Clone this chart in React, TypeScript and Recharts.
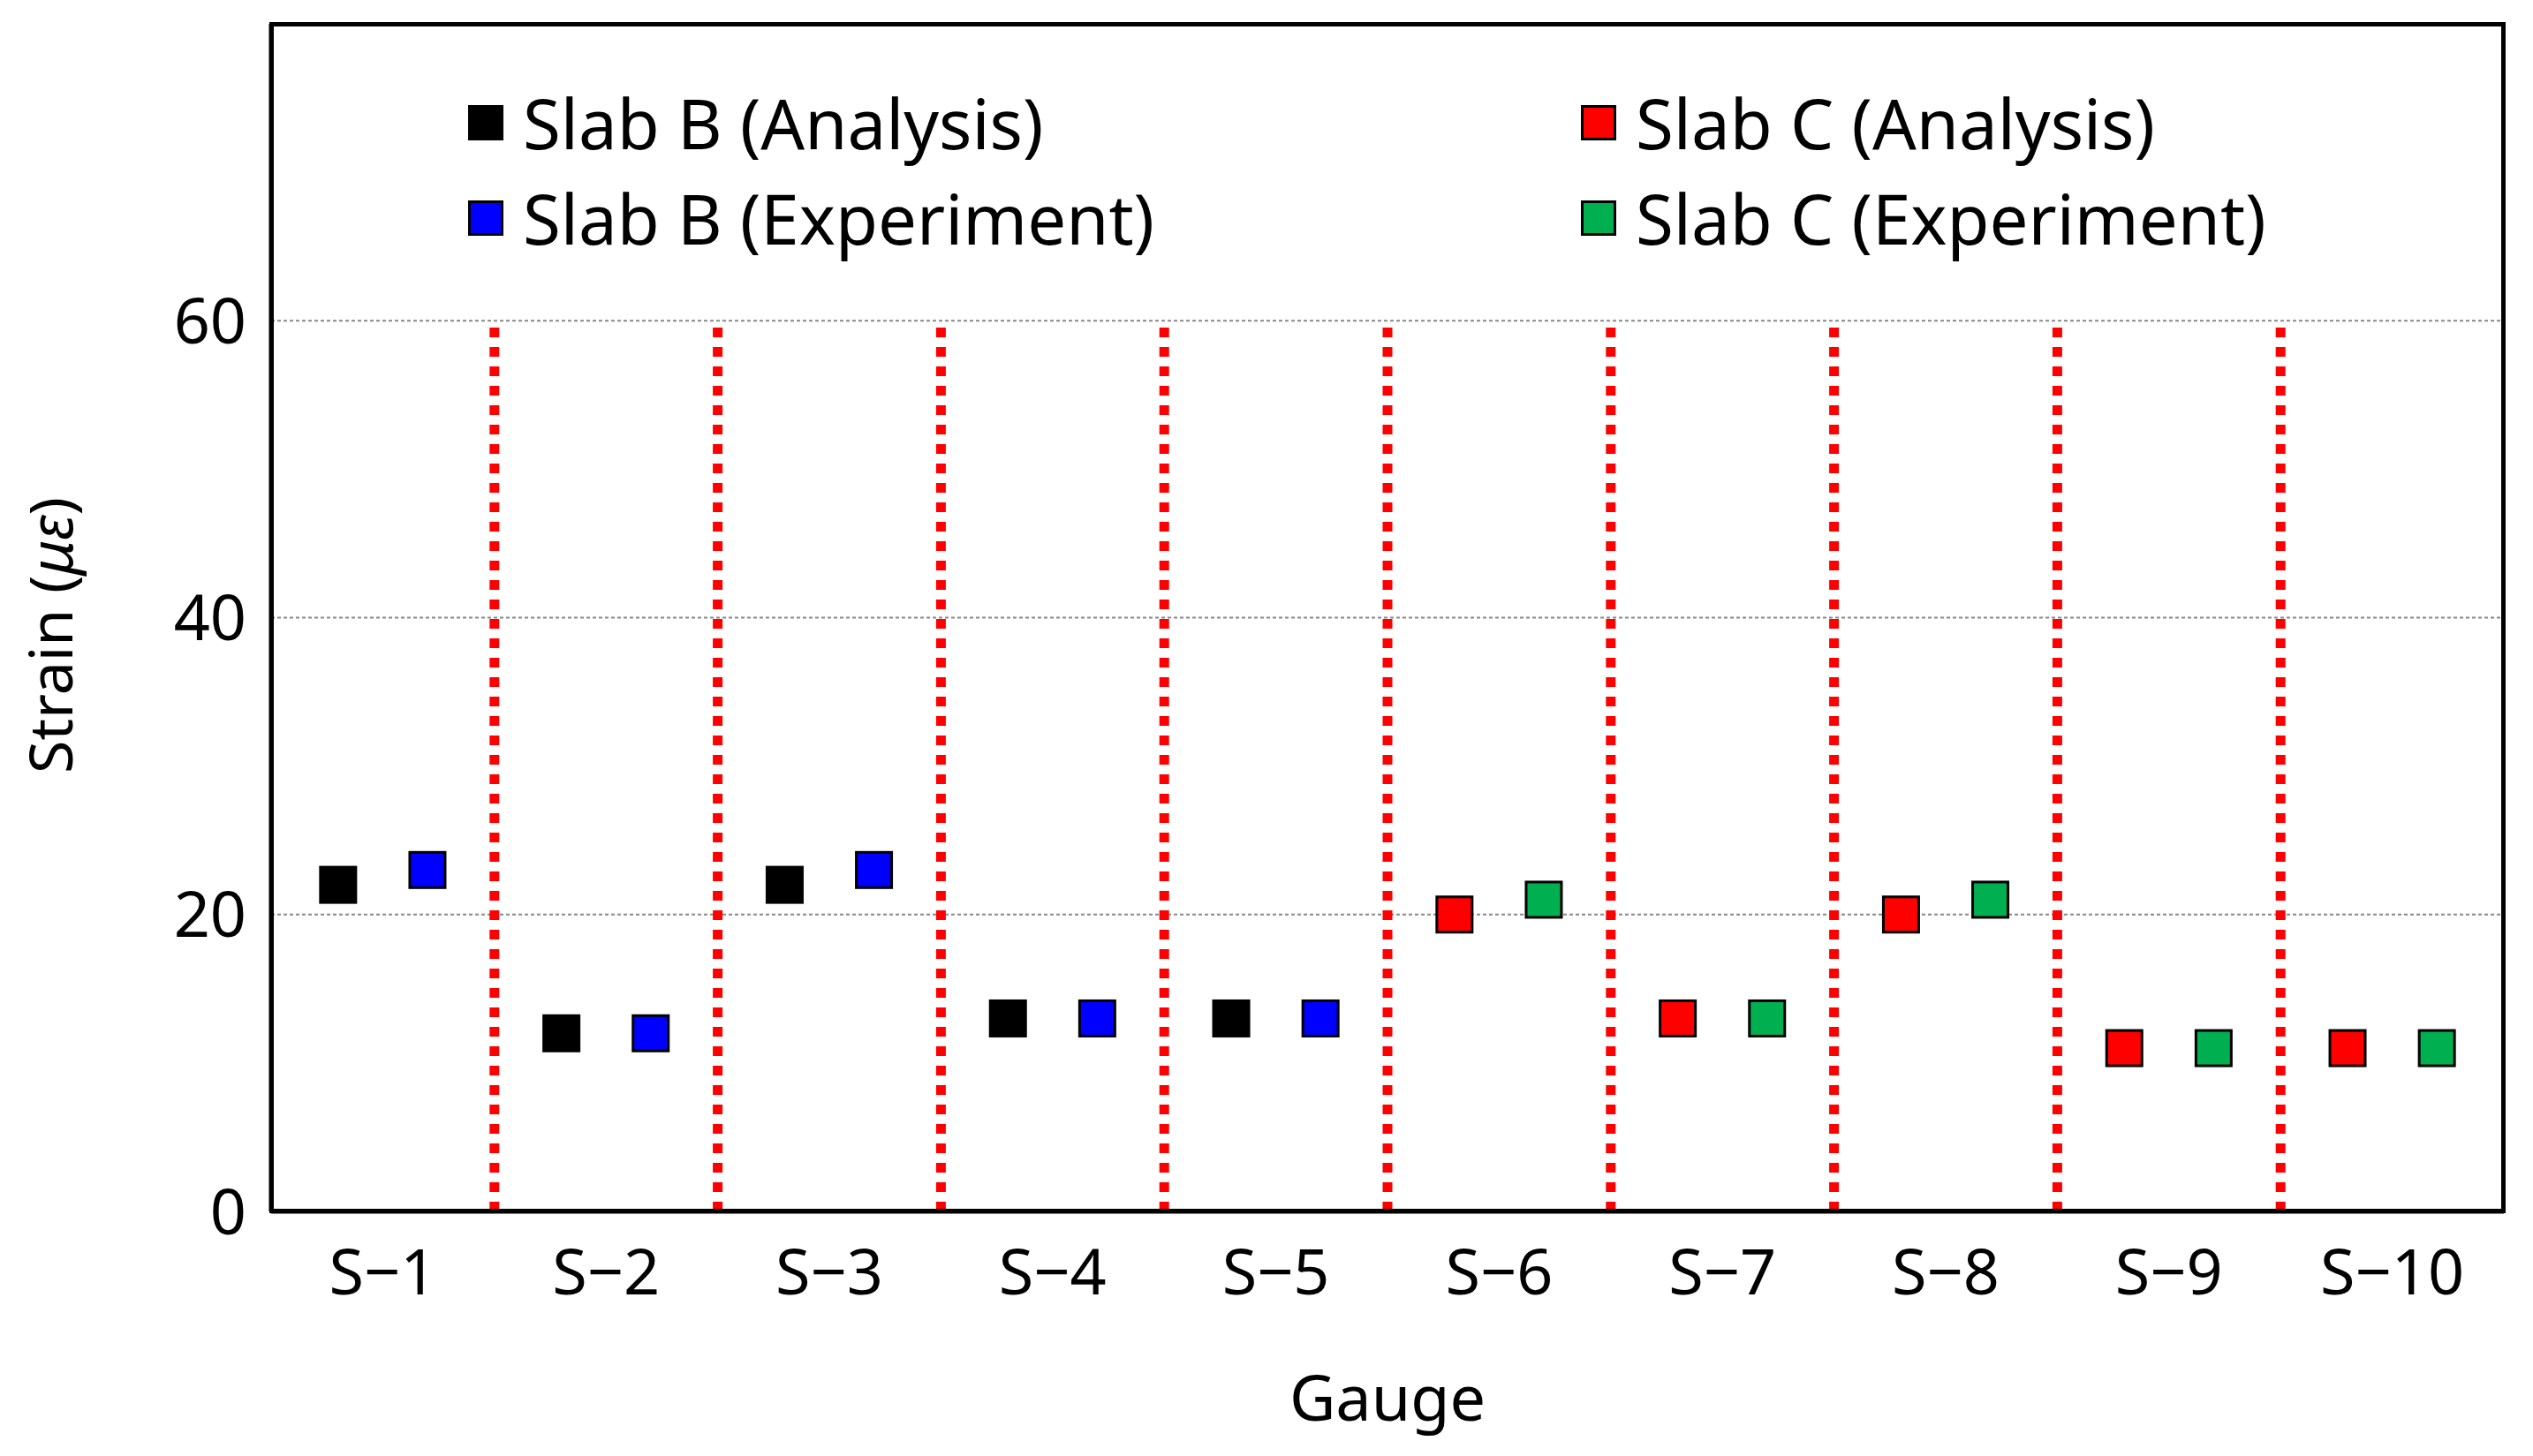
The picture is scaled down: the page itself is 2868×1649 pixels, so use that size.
import { ScatterChart, Scatter, XAxis, YAxis, CartesianGrid, ReferenceLine } from "recharts";

const gauges = ["S−1", "S−2", "S−3", "S−4", "S−5", "S−6", "S−7", "S−8", "S−9", "S−10"];
const analysis = [22, 12, 22, 13, 13, 20, 13, 20, 11, 11];
const experiment = [23, 12, 23, 13, 13, 21, 13, 21, 11, 11];
const slabOf = ["B", "B", "B", "B", "B", "C", "C", "C", "C", "C"];
const yTicks = [0, 20, 40, 60];
const gridValues = [20, 40, 60];
const dividers = [1.5, 2.5, 3.5, 4.5, 5.5, 6.5, 7.5, 8.5, 9.5];

const build = (vals: number[], slab: string, off: number) =>
  vals.map((v, i) => ({ x: i + 1 + off, y: v })).filter((_, i) => slabOf[i] === slab);

const bA = build(analysis, "B", -0.2);
const bE = build(experiment, "B", 0.2);
const cA = build(analysis, "C", -0.2);
const cE = build(experiment, "C", 0.2);

const font = "'Noto Sans', Arial, sans-serif";
const sq = (fill: string) => (p: any) => (
  <rect x={p.cx - 20} y={p.cy - 20} width={40} height={40} fill={fill} stroke="#000" strokeWidth={3} />
);

const legend = [
  { label: "Slab B (Analysis)", color: "#000", left: 530, top: 100 },
  { label: "Slab B (Experiment)", color: "#0000ff", left: 530, top: 208 },
  { label: "Slab C (Analysis)", color: "#ff0000", left: 1790, top: 100 },
  { label: "Slab C (Experiment)", color: "#00b050", left: 1790, top: 208 },
];

function App() {
  return (
    <div style={{ position: "relative", width: 2868, height: 1649, margin: -8, background: "#fff", fontFamily: font }}>
      <ScatterChart width={2868} height={1649} margin={{ top: 27, right: 33, left: 0, bottom: 0 }}>
        <CartesianGrid vertical={false} horizontalValues={gridValues} stroke="#888" strokeDasharray="4 3" strokeWidth={2} />
        <XAxis
          type="number" dataKey="x" domain={[0.5, 10.5]} ticks={[1, 2, 3, 4, 5, 6, 7, 8, 9, 10]}
          tickFormatter={(v) => gauges[v - 1]} height={277} tickLine={false}
          axisLine={{ stroke: "#000", strokeWidth: 5 }}
          tick={{ fontSize: 72, fill: "#000", fontFamily: font, dy: 35 }}
          label={{ value: "Gauge", position: "insideBottom", offset: 40, fontSize: 72, fill: "#000", fontFamily: font }}
        />
        <YAxis
          type="number" dataKey="y" domain={[0, 80]} ticks={yTicks} width={307} tickLine={false}
          axisLine={{ stroke: "#000", strokeWidth: 5 }}
          tick={{ fontSize: 72, fill: "#000", fontFamily: font, dx: -20 }}
          label={(props: any) => {
            const vb = props.viewBox;
            const cx = 64, cy = vb.y + vb.height / 2 + 20;
            return (
              <text x={cx} y={cy} transform={`rotate(-90 ${cx} ${cy})`} textAnchor="middle" dominantBaseline="middle" fontSize={68} fontFamily={font} fill="#000">
                Strain (<tspan fontStyle="italic">με</tspan>)
              </text>
            );
          }}
        />
        {dividers.map((d) => (
          <ReferenceLine key={d} segment={[{ x: d, y: 0 }, { x: d, y: 60 }]} stroke="#ff0000" strokeWidth={11} strokeDasharray="11 11" />
        ))}
        <Scatter data={bA} shape={sq("#000")} isAnimationActive={false} />
        <Scatter data={bE} shape={sq("#0000ff")} isAnimationActive={false} />
        <Scatter data={cA} shape={sq("#ff0000")} isAnimationActive={false} />
        <Scatter data={cE} shape={sq("#00b050")} isAnimationActive={false} />
      </ScatterChart>
      <div style={{ position: "absolute", left: 305, top: 25, width: 2532, height: 1349, border: "5px solid #000", boxSizing: "border-box", pointerEvents: "none" }} />
      {legend.map((l) => (
        <div key={l.label} style={{ position: "absolute", left: l.left, top: l.top, display: "flex", alignItems: "center", fontSize: 78, lineHeight: 1, whiteSpace: "nowrap" }}>
          <span style={{ width: 40, height: 40, background: l.color, border: "3px solid #000", boxSizing: "border-box", marginRight: 22 }} />
          {l.label}
        </div>
      ))}
    </div>
  );
}

export default App;
